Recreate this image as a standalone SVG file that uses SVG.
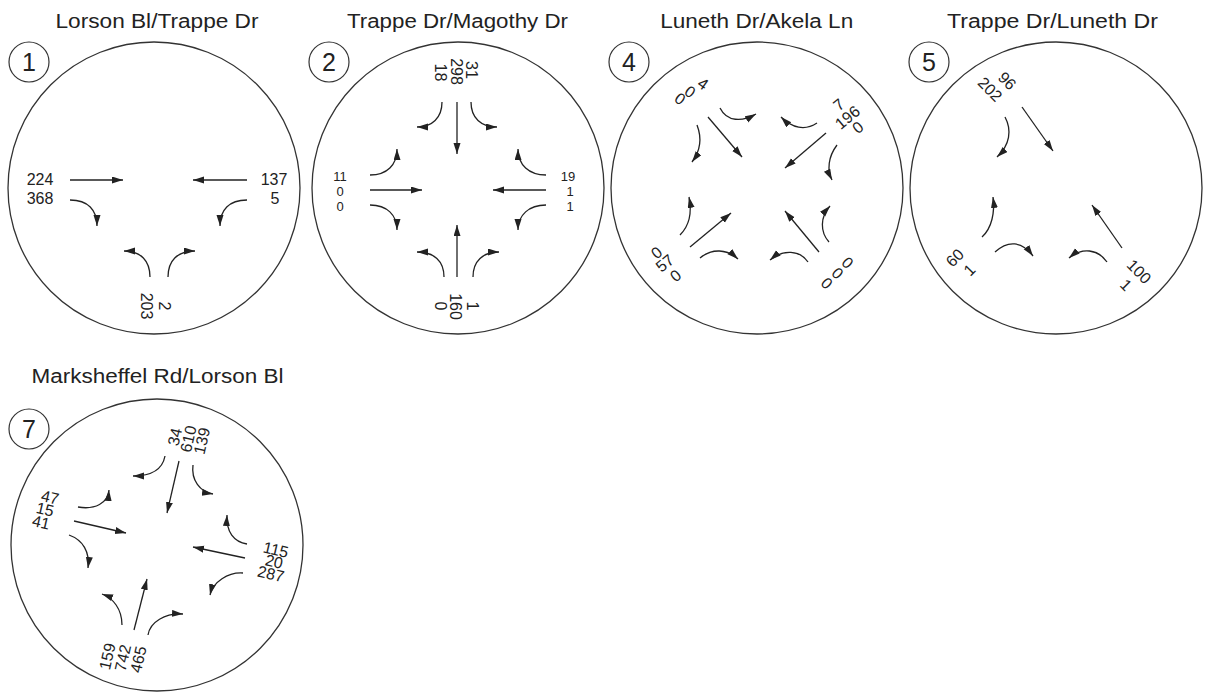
<svg xmlns="http://www.w3.org/2000/svg" width="1208" height="694" viewBox="0 0 1208 694">
<style>
.bg{fill:#fff}
.ring{fill:none;stroke:#333;stroke-width:1.3}
.tag{fill:none;stroke:#333;stroke-width:1.2}
.title{font-family:"Liberation Sans",Arial,sans-serif;font-size:19.5px;fill:#222;text-anchor:middle}
.num{font-family:"Liberation Sans",Arial,sans-serif;font-size:25px;fill:#222;text-anchor:middle}
.lbl{font-family:"Liberation Sans",Arial,sans-serif;font-size:16px;fill:#222;text-anchor:middle}
.sm{font-size:13px}
.arr{fill:none;stroke:#222;stroke-width:1.3;marker-end:url(#ah)}
</style>
<defs>
<marker id="ah" markerUnits="userSpaceOnUse" markerWidth="13" markerHeight="8" refX="11" refY="3.5" orient="auto" viewBox="0 0 13 8">
<path d="M0,0 L11,3.5 L0,7 z" fill="#222"/>
</marker>
</defs>
<rect class="bg" x="0" y="0" width="1208" height="694"/>

<g id="node1">
<text class="title" x="157" y="28" textLength="203" lengthAdjust="spacingAndGlyphs">Lorson Bl/Trappe Dr</text>
<circle class="ring" cx="154" cy="188" r="146"/>
<circle class="tag" cx="29" cy="62" r="20"/>
<text class="num" x="29" y="71">1</text>
<text class="lbl" x="40" y="185">224</text>
<text class="lbl" x="40" y="204">368</text>
<text class="lbl" x="274" y="185">137</text>
<text class="lbl" x="275" y="204">5</text>
<text class="lbl" transform="translate(159,306) rotate(90)">2</text>
<text class="lbl" transform="translate(141,306) rotate(90)">203</text>
</g>

<g id="node2">
<text class="title" x="457.5" y="28" textLength="221" lengthAdjust="spacingAndGlyphs">Trappe Dr/Magothy Dr</text>
<circle class="ring" cx="458" cy="188" r="146"/>
<circle class="tag" cx="329" cy="62" r="20"/>
<text class="num" x="329" y="71">2</text>
<text class="lbl sm" x="340" y="180.5">11</text>
<text class="lbl sm" x="340" y="195.5">0</text>
<text class="lbl sm" x="340" y="210.5">0</text>
<text class="lbl sm" x="568" y="180.5">19</text>
<text class="lbl sm" x="570" y="195.5">1</text>
<text class="lbl sm" x="570" y="210.5">1</text>
<text class="lbl" transform="translate(466,70) rotate(90)">31</text>
<text class="lbl" transform="translate(451,71.5) rotate(90)">298</text>
<text class="lbl" transform="translate(435,72.5) rotate(90)">18</text>
<text class="lbl" transform="translate(467,306) rotate(90)">1</text>
<text class="lbl" transform="translate(450,306.5) rotate(90)">160</text>
<text class="lbl" transform="translate(435,306) rotate(90)">0</text>
</g>

<g id="node4">
<text class="title" x="756.7" y="28" textLength="193" lengthAdjust="spacingAndGlyphs">Luneth Dr/Akela Ln</text>
<circle class="ring" cx="757" cy="188" r="146"/>
<circle class="tag" cx="629" cy="62" r="20"/>
<text class="num" x="629" y="71">4</text>
<text class="lbl" transform="translate(700,88.4) rotate(35)">4</text>
<text class="lbl" transform="translate(687,96.4) rotate(35)">0</text>
<text class="lbl" transform="translate(677,103.4) rotate(35)">0</text>
<text class="lbl" transform="translate(842.4,109) rotate(-40)">7</text>
<text class="lbl" transform="translate(851,121.6) rotate(-40)">196</text>
<text class="lbl" transform="translate(861.4,131.6) rotate(-40)">0</text>
<text class="lbl" transform="translate(660.1,256.9) rotate(-40)">0</text>
<text class="lbl" transform="translate(668.4,267.4) rotate(-40)">57</text>
<text class="lbl" transform="translate(679.2,279.9) rotate(-40)">0</text>
<text class="lbl" transform="translate(843.7,266.6) rotate(45)">0</text>
<text class="lbl" transform="translate(833.7,277.1) rotate(45)">0</text>
<text class="lbl" transform="translate(822.9,287.1) rotate(45)">0</text>
</g>

<g id="node5">
<text class="title" x="1052.5" y="28" textLength="211" lengthAdjust="spacingAndGlyphs">Trappe Dr/Luneth Dr</text>
<circle class="ring" cx="1056" cy="188" r="146"/>
<circle class="tag" cx="929" cy="62" r="20"/>
<text class="num" x="929" y="71">5</text>
<text class="lbl" transform="translate(1003.2,84.8) rotate(45)">96</text>
<text class="lbl" transform="translate(986.2,93.3) rotate(45)">202</text>
<text class="lbl" transform="translate(958.8,261.8) rotate(-45)">60</text>
<text class="lbl" transform="translate(973.3,273.8) rotate(-45)">1</text>
<text class="lbl" transform="translate(1135.2,275.5) rotate(45)">100</text>
<text class="lbl" transform="translate(1122.2,288.8) rotate(45)">1</text>
</g>

<g id="node7">
<text class="title" x="157.5" y="383" textLength="252" lengthAdjust="spacingAndGlyphs">Marksheffel Rd/Lorson Bl</text>
<circle class="ring" cx="157" cy="545" r="146"/>
<circle class="tag" cx="29" cy="429" r="20"/>
<text class="num" x="29" y="438">7</text>
<text class="lbl" transform="translate(48.8,502.7) rotate(13)">47</text>
<text class="lbl" transform="translate(43.8,514.7) rotate(13)">15</text>
<text class="lbl" transform="translate(39.8,527.7) rotate(13)">41</text>
<text class="lbl" transform="translate(274.6,555.2) rotate(13)">115</text>
<text class="lbl" transform="translate(272.8,566.9) rotate(13)">20</text>
<text class="lbl" transform="translate(269.6,579.2) rotate(13)">287</text>
<text class="lbl" transform="translate(180.2,438.2) rotate(-77)">34</text>
<text class="lbl" transform="translate(193.7,440.2) rotate(-77)">610</text>
<text class="lbl" transform="translate(207.2,442.2) rotate(-77)">139</text>
<text class="lbl" transform="translate(112.7,657.7) rotate(-77)">159</text>
<text class="lbl" transform="translate(128.2,659.2) rotate(-77)">742</text>
<text class="lbl" transform="translate(143.7,660.7) rotate(-77)">465</text>
</g>

<g id="connectors">
<g id="c1">
<path class="arr" d="M70,180 L123,180"/>
<path class="arr" d="M70,200 C88,200 97,210 97,226"/>
<path class="arr" d="M247,180 L193,180"/>
<path class="arr" d="M247,200 C229,200 220,210 220,226"/>
<path class="arr" d="M150,277 C150,261 141,251 124,251"/>
<path class="arr" d="M168,277 C168,261 177,251 195,251"/>
</g>
<g id="c2">
<path class="arr" d="M457,102 L457,154"/>
<path class="arr" d="M442,102 C442,118 432,127 417,127"/>
<path class="arr" d="M471,102 C471,118 481,127 497,127"/>
<path class="arr" d="M370,190 L422,190"/>
<path class="arr" d="M370,175 C387,175 397,165 397,149"/>
<path class="arr" d="M370,205 C387,205 397,215 397,230"/>
<path class="arr" d="M546,190 L493,190"/>
<path class="arr" d="M546,175 C529,175 518,165 518,149"/>
<path class="arr" d="M546,205 C529,205 518,215 518,230"/>
<path class="arr" d="M457,277 L457,225"/>
<path class="arr" d="M444,277 C444,261 434,252 417,252"/>
<path class="arr" d="M473,277 C473,261 483,252 499,252"/>
</g>
<g id="c4">
<path class="arr" d="M708,117 L742,157"/>
<path class="arr" d="M697,125 C702,138 701,150 692,162"/>
<path class="arr" d="M720,108 C727,122 742,122 756,114"/>
<path class="arr" d="M817,123 C805,131 792,128 781,117"/>
<path class="arr" d="M826,133 L785,168"/>
<path class="arr" d="M837,145 C828,157 827,170 832,180"/>
<path class="arr" d="M680,235 C690,225 692,212 689,197"/>
<path class="arr" d="M690,247 L731,213"/>
<path class="arr" d="M700,258 C712,248 727,249 738,259"/>
<path class="arr" d="M808,262 C800,250 783,249 770,260"/>
<path class="arr" d="M819,252 L785,211"/>
<path class="arr" d="M829,242 C820,232 820,217 830,206"/>
</g>
<g id="c5">
<path class="arr" d="M1022,107 L1053,151"/>
<path class="arr" d="M1005,117 C1012,130 1010,145 997,157"/>
<path class="arr" d="M982,237 C992,228 995,212 993,197"/>
<path class="arr" d="M995,252 C1008,240 1022,241 1033,256"/>
<path class="arr" d="M1107,262 C1098,249 1082,247 1069,258"/>
<path class="arr" d="M1122,248 L1092,205"/>
</g>
<g id="c7">
<path class="arr" d="M165,456 C162,472 148,476 133,476"/>
<path class="arr" d="M179,461 L167,513"/>
<path class="arr" d="M193,465 C191,480 200,492 213,494"/>
<path class="arr" d="M78,507 C95,510 108,503 109,490"/>
<path class="arr" d="M74,521 L126,533"/>
<path class="arr" d="M69,535 C83,540 90,552 88,568"/>
<path class="arr" d="M247,544 C234,542 226,532 227,515"/>
<path class="arr" d="M245,558 L193,547"/>
<path class="arr" d="M243,573 C228,572 213,582 210,595"/>
<path class="arr" d="M122,625 C122,609 113,598 102,594"/>
<path class="arr" d="M134,630 L147,579"/>
<path class="arr" d="M148,635 C150,622 165,613 183,614"/>
</g>
</g>
</svg>
